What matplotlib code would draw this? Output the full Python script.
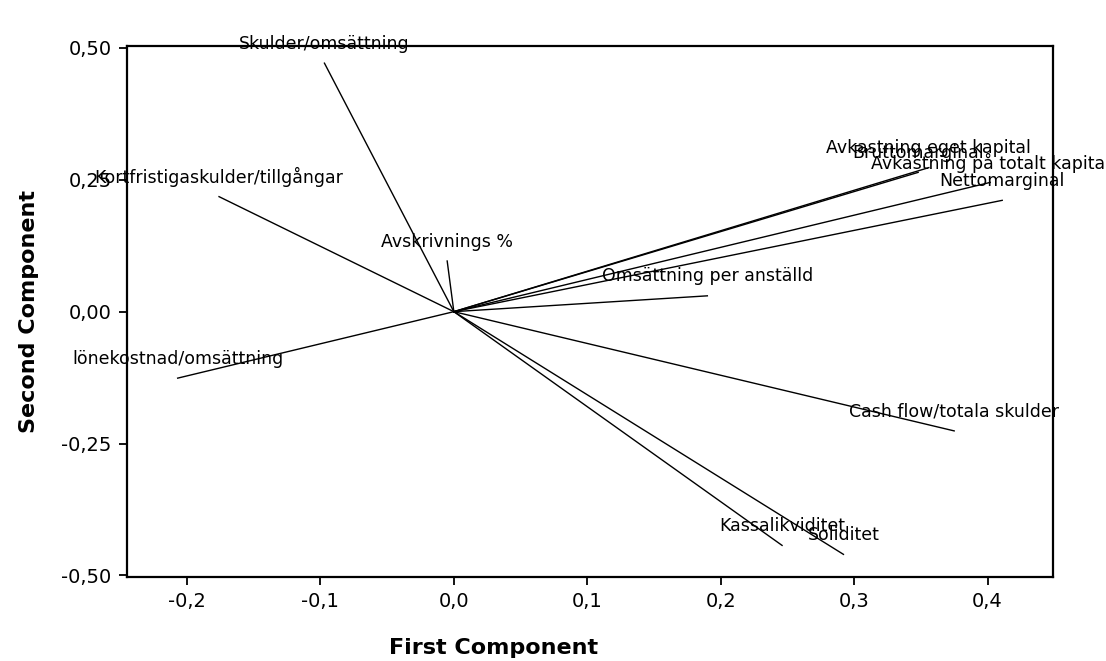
import numpy as np
import matplotlib
matplotlib.use('Agg')
import matplotlib.pyplot as plt

plt.rcParams.update({
    'font.family': 'DejaVu Sans',
    'axes.linewidth': 1.6,
    'xtick.major.width': 1.3,
    'ytick.major.width': 1.3,
    'xtick.major.size': 6,
    'ytick.major.size': 6,
})

# loadings (first, second component)
variables = ['Skulder/omsättning', 'Kortfristigaskulder/tillgångar', 'Avskrivnings %',
             'lönekostnad/omsättning', 'Omsättning per anställd', 'Avkastning eget kapital',
             'Bruttomarginal', 'Avkastning på totalt kapital', 'Nettomarginal',
             'Cash flow/totala skulder', 'Kassalikviditet', 'Soliditet']
pc1 = [-0.097, -0.176, -0.005, -0.207, 0.190, 0.356, 0.348, 0.402, 0.411, 0.375, 0.246, 0.292]
pc2 = [0.471, 0.218, 0.096, -0.126, 0.030, 0.273, 0.264, 0.245, 0.211, -0.226, -0.443, -0.460]

xticks = [-0.2, -0.1, 0.0, 0.1, 0.2, 0.3, 0.4]
xtick_labels = ['-0,2', '-0,1', '0,0', '0,1', '0,2', '0,3', '0,4']
yticks = [-0.50, -0.25, 0.00, 0.25, 0.50]
ytick_labels = ['-0,50', '-0,25', '0,00', '0,25', '0,50']

fig = plt.figure(figsize=(11.06, 6.61), dpi=100, facecolor='white')
ax = fig.add_axes([0.1148, 0.127, 0.8372, 0.803])

for name, x, y in zip(variables, pc1, pc2):
    ax.plot([0, x], [0, y], color='black', lw=1.0)
    ax.annotate(name, xy=(x, y), xytext=(0, 14), textcoords='offset points',
                ha='center', va='center', fontsize=12.5, color='black')

ax.set_xlim(-0.245, 0.449)
ax.set_ylim(-0.503, 0.503)
ax.set_xticks(xticks)
ax.set_xticklabels(xtick_labels, fontsize=14)
ax.set_yticks(yticks)
ax.set_yticklabels(ytick_labels, fontsize=14)
ax.tick_params(top=False, right=False, pad=5)

ax.set_xlabel('First Component', fontsize=16, fontweight='bold', labelpad=18)
ax.xaxis.set_label_coords(0.396, -0.115)
ax.set_ylabel('Second Component', fontsize=16, fontweight='bold', labelpad=16)

fig.savefig('out.png', dpi=100, facecolor='white')
